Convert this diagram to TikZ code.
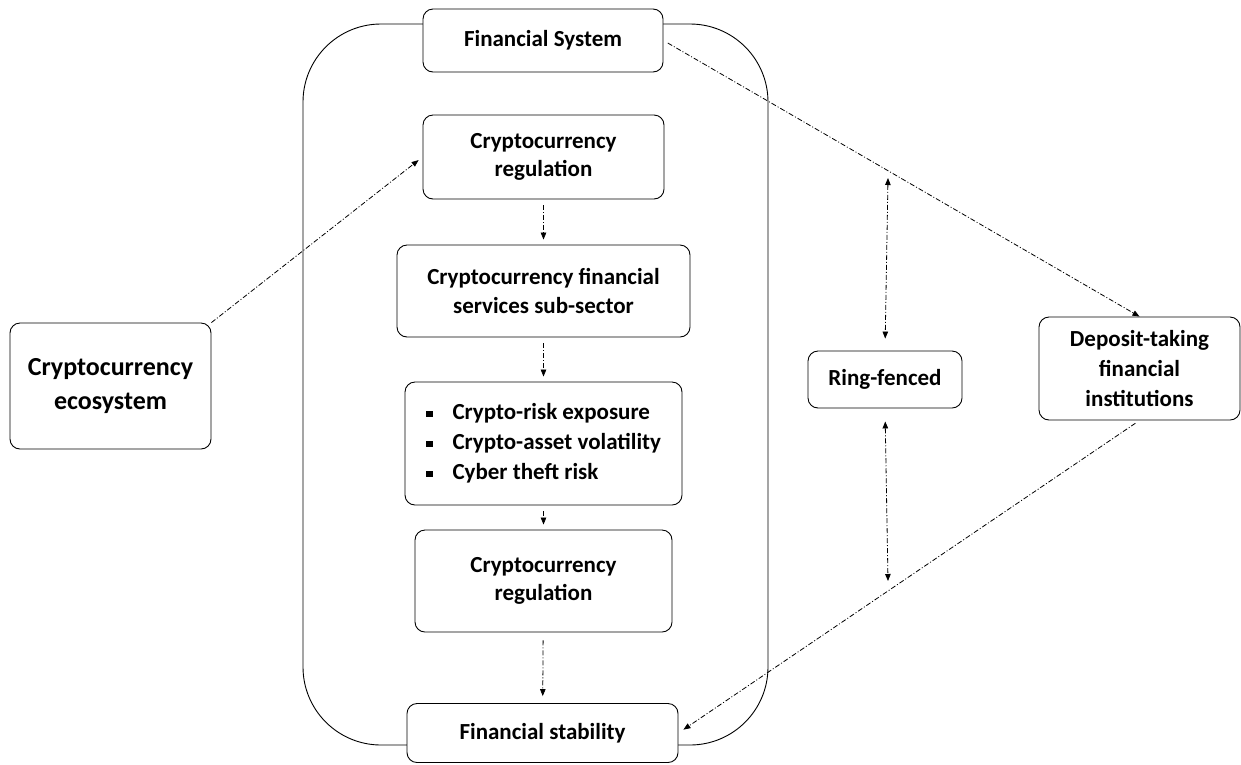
\documentclass[tikz,border=0pt]{standalone}
\usepackage{fontspec}
\setmainfont{Carlito}
\usetikzlibrary{arrows.meta}
\tikzset{
  box/.style={draw, line width=0.9pt, rounded corners=10pt, fill=white, align=center,
              font=\bfseries\fontsize{23}{28.5}\selectfont, inner sep=0pt},
  flow/.style={line width=0.8pt, dash pattern=on 5pt off 2pt on 1pt off 2pt,
               -{Triangle[length=7pt,width=5.5pt]}},
  both/.style={flow, {Triangle[length=7pt,width=5.5pt]}-{Triangle[length=7pt,width=5.5pt]}}
}
\newcommand{\blt}{\rule[2pt]{6.5pt}{6.5pt}}
\begin{document}
\begin{tikzpicture}[x=1pt,y=-1pt]
\useasboundingbox (0,0) rectangle (1241,764);
\fill[white] (0,0) rectangle (1241,764);

% enclosing financial-system frame
\draw[line width=0.9pt, rounded corners=78pt] (303,24) rectangle (768,745);

% boxes inside the frame
\node[box, minimum width=240pt, minimum height=63pt] (fs) at (543,40.5) {Financial System};
\node[box, minimum width=241pt, minimum height=84pt] (reg1) at (543.5,157) {Cryptocurrency\\regulation};
\node[box, minimum width=293pt, minimum height=92pt] (fss) at (543.5,291) {Cryptocurrency financial\\services sub-sector};
\node[box, minimum width=277pt, minimum height=123pt] (risk) at (543.5,443.5)
  {\begin{tabular}{@{}l@{\hspace{20pt}}l@{}}
   \blt & Crypto-risk exposure\\[1.5pt]
   \blt & Crypto-asset volatility\\[1.5pt]
   \blt & Cyber theft risk
   \end{tabular}};
\node[box, minimum width=257pt, minimum height=102pt] (reg2) at (543.5,581) {Cryptocurrency\\regulation};
\node[box, minimum width=271pt, minimum height=59pt] (stab) at (542.5,733) {Financial stability};

% boxes outside the frame
\node[box, minimum width=201pt, minimum height=126pt,
      font=\bfseries\fontsize{26}{34}\selectfont] (eco) at (110.5,386) {Cryptocurrency\\ecosystem};
\node[box, minimum width=154pt, minimum height=57pt] (ring) at (885,379.5) {Ring-fenced};
\node[box, minimum width=201pt, minimum height=103pt,
      font=\bfseries\fontsize{23}{30}\selectfont] (dep) at (1139.5,368.5) {Deposit-taking\\financial\\institutions};

% vertical chain
\draw[flow, shorten <=6pt, shorten >=5pt] (reg1) -- (fss);
\draw[flow, shorten <=6pt, shorten >=5pt] (fss) -- (risk);
\draw[flow, shorten <=6pt, shorten >=5pt] (risk) -- (reg2);
\draw[flow, shorten <=8pt, shorten >=7pt] (reg2) -- (stab);

% side connectors
\draw[flow, shorten >=5pt] (eco.north east) -- (reg1.west);
\draw[flow, shorten <=5pt] (fs.east) -- (dep.north);
\draw[flow, shorten <=5pt, shorten >=6pt] (dep.south) -- (stab.east);

% ring-fence links
\coordinate (rt) at (888,178);
\coordinate (rb) at (888,581);
\draw[both, shorten >=12pt] (rt) -- (ring.north);
\draw[both, shorten <=13pt] (ring.south) -- (rb);
\end{tikzpicture}
\end{document}
